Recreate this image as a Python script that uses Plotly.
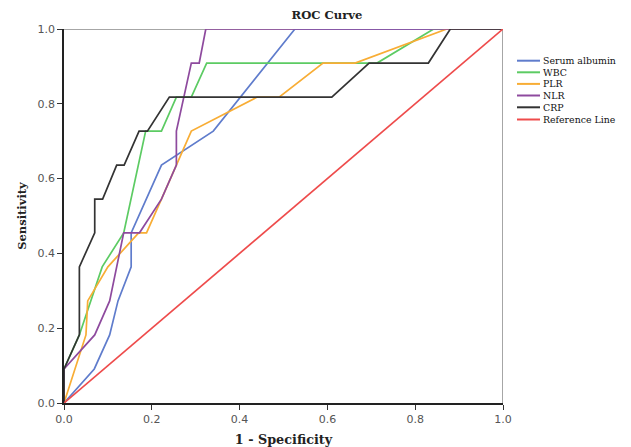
import plotly.graph_objects as go

names = ["Serum albumin", "WBC", "PLR", "NLR", "CRP", "Reference Line"]
colors = ["#5f7ccc", "#5ccb63", "#f8ad35", "#8e4a9e", "#333333", "#ee4b4b"]

alb_x = [0, 0.069, 0.104, 0.123, 0.153, 0.153, 0.222, 0.34, 0.526, 1.0]
alb_y = [0, 0.091, 0.182, 0.273, 0.364, 0.455, 0.636, 0.727, 1.0, 1.0]

wbc_x = [0, 0, 0.035, 0.087, 0.136, 0.186, 0.222, 0.256, 0.29, 0.325, 0.713, 0.842, 1.0]
wbc_y = [0, 0.091, 0.182, 0.364, 0.455, 0.727, 0.727, 0.818, 0.818, 0.909, 0.909, 1.0, 1.0]

plr_x = [0, 0.05, 0.054, 0.10, 0.17, 0.188, 0.222, 0.256, 0.29, 0.44, 0.49, 0.59, 0.663, 0.872, 1.0]
plr_y = [0, 0.182, 0.273, 0.364, 0.455, 0.455, 0.545, 0.636, 0.727, 0.818, 0.818, 0.909, 0.909, 1.0, 1.0]

nlr_x = [0, 0, 0.07, 0.104, 0.136, 0.172, 0.222, 0.256, 0.256, 0.29, 0.308, 0.323, 1.0]
nlr_y = [0, 0.091, 0.182, 0.273, 0.455, 0.455, 0.545, 0.636, 0.727, 0.909, 0.909, 1.0, 1.0]

crp_x = [0, 0, 0.035, 0.035, 0.07, 0.07, 0.088, 0.12, 0.137, 0.171, 0.19, 0.24, 0.61, 0.695, 0.83, 0.88, 1.0]
crp_y = [0, 0.091, 0.182, 0.364, 0.455, 0.545, 0.545, 0.636, 0.636, 0.727, 0.727, 0.818, 0.818, 0.909, 0.909, 1.0, 1.0]

ref_x = [0, 1]
ref_y = [0, 1]

tick_vals = [0.0, 0.2, 0.4, 0.6, 0.8, 1.0]
tick_text = ["0.0", "0.2", "0.4", "0.6", "0.8", "1.0"]

series = [(alb_x, alb_y), (wbc_x, wbc_y), (plr_x, plr_y), (nlr_x, nlr_y), (crp_x, crp_y), (ref_x, ref_y)]

# page has an 8px body margin, so the figure is drawn 8px in from the top-left
OFF = 8
W, H = 631 - OFF, 447 - OFF
ML, MR, MT, MB = 64 - OFF, 631 - 503, 29 - OFF, 447 - 403
PW, PH = W - ML - MR, H - MT - MB

def px(xpage):
    return (xpage - OFF - ML) / PW

def py(ypage):
    return (H - MB - (ypage - OFF)) / PH

SERIF = "DejaVu Serif, Times New Roman"

fig = go.Figure()
for (xs, ys), n, c in zip(series, names, colors):
    fig.add_trace(go.Scatter(x=xs, y=ys, mode="lines", name=n, showlegend=False,
                             line=dict(color=c, width=1.7)))

axis_common = dict(range=[0, 1], tickvals=tick_vals, ticktext=tick_text,
                   ticks="outside", ticklen=5, tickcolor="#333", tickwidth=1.3,
                   showgrid=False, zeroline=False, showline=True, linecolor="#222",
                   linewidth=1.6, mirror=False, automargin=False,
                   tickfont=dict(family="DejaVu Sans, Arial", size=11, color="#555"))

fig.update_xaxes(**axis_common,
                 title=dict(text="<b>1 - Specificity</b>",
                            font=dict(family=SERIF, size=12.8, color="#222"),
                            standoff=12))
fig.update_yaxes(**axis_common,
                 title=dict(text="<b>Sensitivity</b>",
                            font=dict(family=SERIF, size=11.5, color="#222"),
                            standoff=8))

# gray frame on top and right
fig.add_shape(type="line", xref="x", yref="y", x0=0, y0=1, x1=1, y1=1,
              line=dict(color="#888", width=1.5), layer="below")
fig.add_shape(type="line", xref="x", yref="y", x0=1, y0=0, x1=1, y1=1,
              line=dict(color="#888", width=1.5), layer="below")

# manual compact legend
leg_y = [60.7, 72.3, 83.9, 95.5, 107.3, 119.5]
for n, c, yy in zip(names, colors, leg_y):
    fig.add_shape(type="line", xref="paper", yref="paper",
                  x0=px(517), x1=px(540), y0=py(yy), y1=py(yy),
                  line=dict(color=c, width=2))
    fig.add_annotation(xref="paper", yref="paper", x=px(541), y=py(yy),
                       xanchor="left", yanchor="middle", showarrow=False,
                       text=n, font=dict(family=SERIF, size=9.4, color="#111"))

fig.update_layout(
    width=W, height=H,
    margin=dict(l=ML, r=MR, t=MT, b=MB, autoexpand=False),
    paper_bgcolor="white", plot_bgcolor="white",
    title=dict(text="<b>ROC Curve</b>", x=(327 - OFF) / W, xanchor="center",
               y=1 - (15 - OFF) / H, yanchor="middle",
               font=dict(family=SERIF, size=11.6, color="#222")),
    showlegend=False,
)

fig.write_html("out.html")
